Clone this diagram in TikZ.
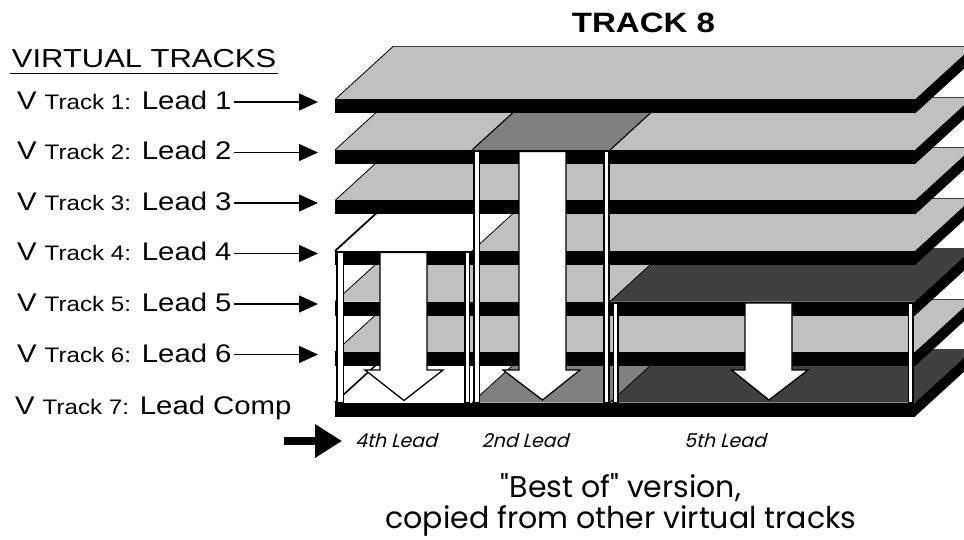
\documentclass[tikz,border=0pt]{standalone}
\usepackage{fontspec}
\setmainfont{Liberation Sans}
\newfontfamily\labfont{Liberation Sans}[FakeStretch=1.15]
\newfontfamily\headfont{Liberation Sans}[FakeStretch=1.19]
\newfontfamily\titlefont{Liberation Sans}[FakeStretch=1.18]
\newfontfamily\geofont{Poppins}
\newfontfamily\geoslant{Poppins}[FakeSlant=0.25]
\usetikzlibrary{arrows.meta,calc}

\definecolor{deckgray}{HTML}{C0C0C0}
\definecolor{pickgray}{HTML}{808080}
\definecolor{compdark}{HTML}{404040}

\tikzset{
  backedge/.style={draw=black!75,line width=0.8pt},
  post/.style={fill=white,draw=black,line width=1.2pt},
  bigarrow/.style={fill=white,draw=black,line width=1.3pt,line join=miter},
  leadarrow/.style={line width=1.3pt,-{Triangle[length=19pt,width=17pt]}},
  lab/.style={inner sep=0pt,outer sep=0pt,anchor=base west},
}

% one deck of a track: top face, front bar, right side
\newcommand\deckface[4]{\fill[#4] (#1,#3) -- (#2,#3) -- (#2+58,#3-53) -- (#1+58,#3-53) -- cycle;}
\newcommand\deckbar[3]{\fill[black] (#1,#3) rectangle (#2,#3+14);}
\newcommand\deckside[1]{\fill[black] (915,#1) -- (973,#1-53) -- (973,#1-39) -- (915,#1+14) -- cycle;}
\newcommand\deckback[1]{\draw[backedge] (393,#1-53) -- (973,#1-53);}
\newcommand\deckleft[3][line width=0.8pt]{\draw[black,#1] (#2,#3) -- (#2+58,#3-53);}

\begin{document}
\begin{tikzpicture}[x=1pt,y=-1pt]
\useasboundingbox (0,0) rectangle (964,540);

\begin{scope}
\clip (0,0) rectangle (964,540);

% deck 7: the comp track
\deckface{335}{472}{402.5}{white}
\deckface{472}{610}{402.5}{pickgray}
\deckface{610}{915}{402.5}{compdark}
\deckback{402.5}
\deckleft[line width=1.6pt]{335}{402.5}
\deckleft{472}{402.5}
\deckleft{610}{402.5}
\deckbar{335}{915}{402.5}
\deckside{402.5}

% deck 6
\deckface{335}{915}{352}{deckgray}
\deckback{352}
\deckleft{335}{352}
\deckbar{335}{915}{352}
\deckside{352}

% deck 5 (5th lead picked on the right)
\deckface{335}{610}{301.5}{deckgray}
\deckface{610}{915}{301.5}{compdark}
\deckback{301.5}
\deckleft{335}{301.5}
\deckleft{610}{301.5}
\deckbar{335}{915}{301.5}
\deckside{301.5}

% posts and arrow for the 5th lead
\draw[post] (613.5,303) rectangle (618,402.5);
\draw[post] (908.5,303) rectangle (913,402.5);
\draw[bigarrow] (745,303) -- (792,303) -- (792,370) -- (808,370) -- (769,400)
  -- (731.5,370) -- (745,370) -- cycle;

% deck 4 (4th lead picked on the left)
\deckface{335}{472}{251}{white}
\deckface{472}{915}{251}{deckgray}
\deckback{251}
\deckleft[line width=1.8pt]{335}{251}
\deckleft{472}{251}
\deckbar{335}{915}{251}
\deckside{251}

% posts and arrow for the 4th lead
\draw[post] (337,252.5) rectangle (343.5,402.5);
\draw[post] (465,252.5) rectangle (469.5,402.5);
\draw[bigarrow] (380,252.5) -- (427,252.5) -- (427,370) -- (443,370) -- (404,400.5)
  -- (365,370) -- (380,370) -- cycle;

% deck 3
\deckface{335}{915}{200.5}{deckgray}
\deckback{200.5}
\deckleft{335}{200.5}
\deckbar{335}{915}{200.5}
\deckside{200.5}

% deck 2 (2nd lead picked in the middle)
\deckface{335}{472}{150}{deckgray}
\deckface{610}{915}{150}{deckgray}
\deckface{472}{610}{150}{pickgray}
\deckback{150}
\deckleft{335}{150}
\deckleft[line width=1.1pt]{472}{150}
\deckleft[line width=1.1pt]{610}{150}
\deckbar{335}{915}{150}
\deckside{150}

% posts and arrow for the 2nd lead
\draw[post] (474,151.5) rectangle (479.5,402.5);
\draw[post] (604,151.5) rectangle (609,402.5);
\draw[bigarrow] (519,151.5) -- (566,151.5) -- (566,370) -- (580,370) -- (542.5,400)
  -- (503,370) -- (519,370) -- cycle;

% deck 1
\deckface{335}{915}{99.5}{deckgray}
\deckback{99.5}
\deckleft{335}{99.5}
\deckbar{335}{915}{99.5}
\deckside{99.5}
\end{scope}

% headings
\node[anchor=base] (title) at (643.5,33)
  {\titlefont\bfseries\fontsize{28}{30}\selectfont TRACK 8};
\node[lab] (vt) at (12,68)
  {\headfont\fontsize{26}{28}\selectfont VIRTUAL TRACKS};
\draw[line width=1.2pt] ($(vt.base west)+(-2,5.5)$) -- ($(vt.base east)+(2,5.5)$);

% virtual track labels and their arrows
\foreach \k in {1,...,6}{
  \pgfmathsetmacro\ay{102+50.5*(\k-1)}
  \coordinate (t\k) at (318,\ay);
  \node[lab,inner xsep=2pt] (v\k) at (15,\ay+7.5)
    {\labfont\fontsize{25.5}{28}\selectfont V {\fontsize{21}{24}\selectfont Track \k:} Lead \k};
  \draw[leadarrow] (v\k.east |- t\k) -- (t\k);
}
\node[lab] (v7) at (15,414)
  {\labfont\fontsize{25.5}{28}\selectfont V {\fontsize{21}{24}\selectfont Track 7:} Lead Comp};

% comp track pointer and segment names
\coordinate (cs) at (284,441);
\coordinate (ce) at (342,441);
\draw[line width=8pt,-{Triangle[length=27pt,width=32pt]}] (cs) -- (ce);
\node[anchor=base] (s4) at (396,447) {\geoslant\fontsize{19}{21}\selectfont 4th Lead};
\node[anchor=base] (s2) at (525,447) {\geoslant\fontsize{19}{21}\selectfont 2nd Lead};
\node[anchor=base] (s5) at (725,447) {\geoslant\fontsize{19}{21}\selectfont 5th Lead};

% caption
\node[anchor=base] (cap1) at (621,497) {\geofont\fontsize{30}{32}\selectfont "Best of" version,};
\node[anchor=base] (cap2) at (621,528) {\geofont\fontsize{30}{32}\selectfont copied from other virtual tracks};
\end{tikzpicture}
\end{document}
